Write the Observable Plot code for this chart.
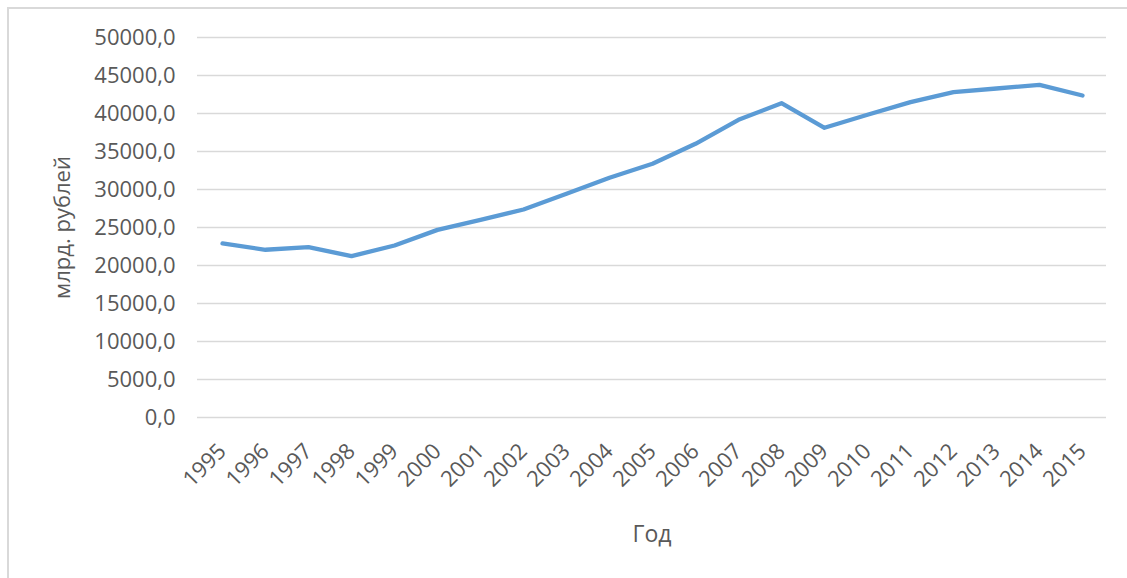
<!DOCTYPE html>
<html>
<head>
<meta charset="utf-8">
<script src="https://cdn.jsdelivr.net/npm/d3@7"></script>
<script src="https://cdn.jsdelivr.net/npm/@observablehq/plot@0.6"></script>
<style>
  html, body { margin: 0; padding: 0; background: #fff; }
  #wrap { position: relative; width: 1127px; height: 578px; overflow: hidden; }
  #border { position: absolute; left: 7px; top: 7px; width: 1300px; height: 800px;
            border-left: 2px solid #d9d9d9; border-top: 2px solid #d9d9d9; box-sizing: border-box; }
  #chart { position: absolute; left: 0; top: 0; }
</style>
</head>
<body>
<div id="wrap"><div id="border"></div><div id="chart"></div></div>
<script>
const years = ["1995","1996","1997","1998","1999","2000","2001","2002","2003","2004","2005",
               "2006","2007","2008","2009","2010","2011","2012","2013","2014","2015"];
const values = [22900, 22070, 22410, 21230, 22630, 24690, 26000, 27370, 29430, 31540, 33380,
                36010, 39170, 41360, 38120, 39830, 41490, 42810, 43290, 43770, 42370];
const yTicks = [0, 5000, 10000, 15000, 20000, 25000, 30000, 35000, 40000, 45000, 50000];
const xTitle = "Год";
const yTitle = "млрд. рублей";

const data = years.map((y, i) => ({year: y, value: values[i]}));
const fmt = d => d.toFixed(1).replace(".", ",");
const textColor = "#595959";

const chart = Plot.plot({
  width: 1127,
  height: 578,
  marginLeft: 197,
  marginRight: 21,
  marginTop: 37,
  marginBottom: 161,
  style: {fontFamily: "'Open Sans', sans-serif", fontSize: "22px", color: textColor, background: "transparent"},
  x: {type: "point", domain: years, padding: 0.5},
  y: {domain: [0, 50000]},
  marks: [
    Plot.ruleY(yTicks, {stroke: "#d9d9d9", strokeWidth: 1.3}),
    Plot.axisY({ticks: yTicks, tickFormat: fmt, tickSize: 0, tickPadding: 22, label: null,
                fontSize: 22, fill: textColor}),
    Plot.axisX({tickRotate: -45, tickSize: 0, tickPadding: 30, label: null,
                fontSize: 22, fill: textColor}),
    Plot.line(data, {x: "year", y: "value", stroke: "#5b9bd5", strokeWidth: 4.3,
                     strokeLinejoin: "round", strokeLinecap: "round"}),
    Plot.text([xTitle], {frameAnchor: "bottom", dy: 117, lineAnchor: "middle",
                         fontSize: 23, fill: textColor}),
    Plot.text([yTitle], {frameAnchor: "left", dx: -135, rotate: -90, textAnchor: "middle",
                         lineAnchor: "middle", fontSize: 22, fill: textColor})
  ]
});
document.getElementById("chart").appendChild(chart);
</script>
</body>
</html>
